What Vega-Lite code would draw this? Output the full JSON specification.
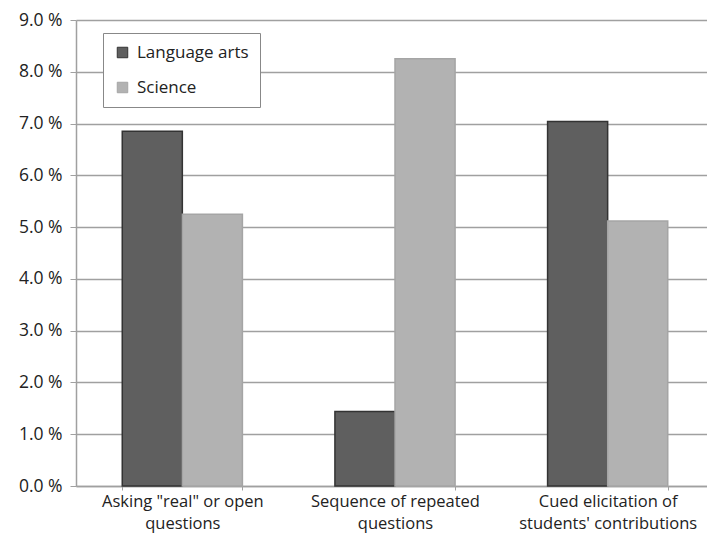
{
  "$schema": "https://vega.github.io/schema/vega-lite/v6.json",
  "autosize": {"type": "none"},
  "width": 630,
  "height": 466,
  "padding": {"left": 76, "top": 20, "right": 1, "bottom": 64},
  "background": "white",
  "data": {
    "values": [
      {"category": "Asking \"real\" or open questions", "series": "Language arts", "value": 6.85},
      {"category": "Asking \"real\" or open questions", "series": "Science", "value": 5.25},
      {"category": "Sequence of repeated questions", "series": "Language arts", "value": 1.44},
      {"category": "Sequence of repeated questions", "series": "Science", "value": 8.25},
      {"category": "Cued elicitation of students' contributions", "series": "Language arts", "value": 7.04},
      {"category": "Cued elicitation of students' contributions", "series": "Science", "value": 5.12}
    ]
  },
  "mark": {"type": "bar", "strokeWidth": 1.5},
  "encoding": {
    "x": {
      "field": "category",
      "type": "nominal",
      "sort": null,
      "scale": {"range": [0, 638], "paddingInner": 0.435, "paddingOuter": 0.2175},
      "axis": {
        "title": null,
        "labelAngle": 0,
        "tickBand": "extent",
        "grid": false,
        "domainColor": "#a0a0a0",
        "domainWidth": 1.5,
        "tickColor": "#a0a0a0",
        "tickSize": 4,
        "labelFont": "Open Sans",
        "labelFontSize": 16.5,
        "labelColor": "#222222",
        "labelPadding": 3,
        "labelLineHeight": 22,
        "labelLimit": 400,
        "labelOverlap": false,
        "labelExpr": "datum.value == 'Sequence of repeated questions' ? ['Sequence of repeated', 'questions'] : datum.value == 'Cued elicitation of students\\' contributions' ? ['Cued elicitation of', 'students\\' contributions'] : datum.value == 'Asking \"real\" or open questions' ? ['Asking \"real\" or open', 'questions'] : ''"
      }
    },
    "xOffset": {"field": "series", "type": "nominal", "scale": {"paddingInner": 0, "paddingOuter": 0}},
    "y": {
      "field": "value",
      "type": "quantitative",
      "scale": {"domain": [0, 9]},
      "axis": {
        "title": null,
        "values": [0, 1, 2, 3, 4, 5, 6, 7, 8, 9],
        "labelOverlap": false,
        "labelFlush": false,
        "labelExpr": "format(datum.value, '.1f') + ' %'",
        "gridColor": "#a0a0a0",
        "gridWidth": 1.5,
        "domainColor": "#a0a0a0",
        "domainWidth": 1.5,
        "tickColor": "#a0a0a0",
        "tickSize": 6,
        "labelFont": "Open Sans",
        "labelFontSize": 17.5,
        "labelColor": "#222222",
        "labelPadding": 8
      }
    },
    "fill": {
      "field": "series",
      "type": "nominal",
      "scale": {"range": ["#5f5f5f", "#b2b2b2"]},
      "legend": {
        "title": null,
        "orient": "none",
        "legendX": 27,
        "legendY": 13,
        "direction": "vertical",
        "symbolType": "square",
        "symbolSize": 110,
        "symbolStrokeWidth": 1,
        "labelFont": "Open Sans",
        "labelFontSize": 17,
        "labelColor": "#222222",
        "rowPadding": 17,
        "padding": 11,
        "strokeColor": "#888888",
        "fillColor": "white",
        "labelOffset": 6
      }
    },
    "stroke": {
      "field": "series",
      "type": "nominal",
      "scale": {"range": ["#333333", "#a5a5a5"]}
    }
  },
  "config": {"view": {"stroke": null}}
}
